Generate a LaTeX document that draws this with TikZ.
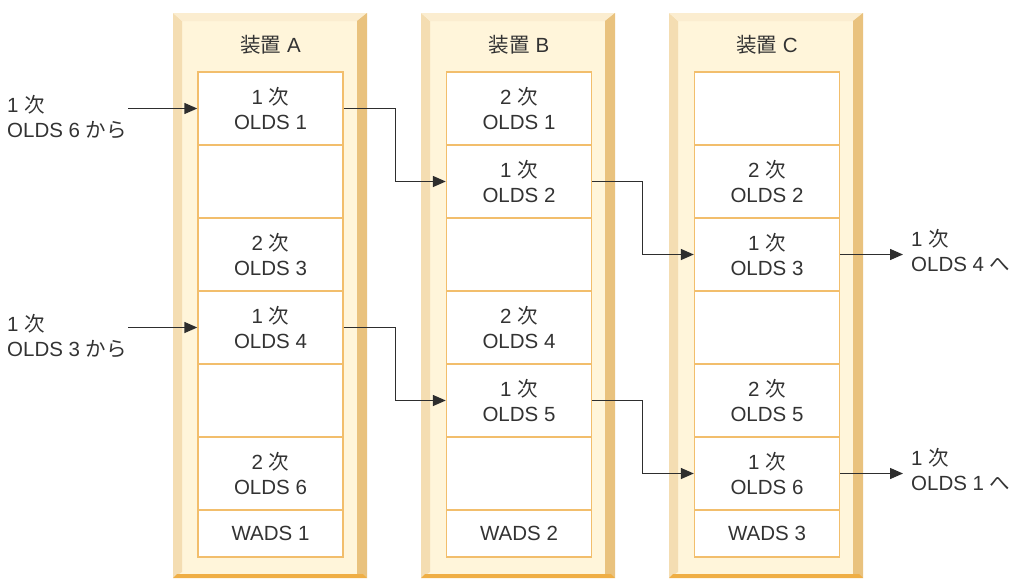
\documentclass[tikz,border=0pt]{standalone}
\usepackage{fontspec}
\setmainfont{Liberation Sans}
\newfontfamily\cjk{Noto Sans CJK JP}
\usetikzlibrary{arrows.meta}
\definecolor{txt}{HTML}{333333}
\definecolor{framefill}{HTML}{FFF5DA}
\definecolor{bevL}{HTML}{F4DDB2}
\definecolor{bevT}{HTML}{FBEDD0}
\definecolor{bevR}{HTML}{E9C27E}
\definecolor{bevB}{HTML}{EFAE45}
\definecolor{cellline}{HTML}{F2BE6C}
\definecolor{wire}{HTML}{2E2E2E}
\newcommand\ji{{\cjk 次}}
\begin{document}
\begin{tikzpicture}[x=1pt,y=-1pt,
  every node/.style={font=\fontsize{20.5}{25}\selectfont, text=txt},
  cell/.style={draw=cellline, line width=1.4pt, fill=white, minimum width=145pt,
    minimum height=73pt, inner sep=0pt, align=center},
  wadscell/.style={cell, minimum height=47pt},
  title/.style={inner sep=0pt},
  lbl/.style={inner sep=0pt, align=left},
  arr/.style={draw=wire, line width=1.4pt, -{Triangle[length=13pt,width=11pt]}}]
\useasboundingbox (0,0) rectangle (1009,579);
% device frames
\foreach \x in {173,421,669}{
  \fill[framefill] (\x,13) rectangle (\x+194,578);
  \fill[bevL] (\x,13) -- (\x+9,21) -- (\x+9,572) -- (\x,578) -- cycle;
  \fill[bevT] (\x,13) -- (\x+194,13) -- (\x+184,21) -- (\x+9,21) -- cycle;
  \fill[bevR] (\x+194,13) -- (\x+194,578) -- (\x+184,574) -- (\x+184,21) -- cycle;
  \fill[bevB] (\x,578) -- (\x+194,578) -- (\x+190,574) -- (\x+4,574) -- cycle;
}
% titles
\node[title] (tA) at (270.5,45) {{\cjk 装置} A};
\node[title] (tB) at (519,45) {{\cjk 装置} B};
\node[title] (tC) at (767,45) {{\cjk 装置} C};
% device A
\node[cell] (A1) at (270.5,108.5) {1 \ji\\OLDS 1};
\node[cell] (A2) at (270.5,181.5) {};
\node[cell] (A3) at (270.5,254.5) {2 \ji\\OLDS 3};
\node[cell] (A4) at (270.5,327.5) {1 \ji\\OLDS 4};
\node[cell] (A5) at (270.5,400.5) {};
\node[cell] (A6) at (270.5,473.5) {2 \ji\\OLDS 6};
\node[wadscell] (AW) at (270.5,533.5) {WADS 1};
% device B
\node[cell] (B1) at (519,108.5) {2 \ji\\OLDS 1};
\node[cell] (B2) at (519,181.5) {1 \ji\\OLDS 2};
\node[cell] (B3) at (519,254.5) {};
\node[cell] (B4) at (519,327.5) {2 \ji\\OLDS 4};
\node[cell] (B5) at (519,400.5) {1 \ji\\OLDS 5};
\node[cell] (B6) at (519,473.5) {};
\node[wadscell] (BW) at (519,533.5) {WADS 2};
% device C
\node[cell] (C1) at (767,108.5) {};
\node[cell] (C2) at (767,181.5) {2 \ji\\OLDS 2};
\node[cell] (C3) at (767,254.5) {1 \ji\\OLDS 3};
\node[cell] (C4) at (767,327.5) {};
\node[cell] (C5) at (767,400.5) {2 \ji\\OLDS 5};
\node[cell] (C6) at (767,473.5) {1 \ji\\OLDS 6};
\node[wadscell] (CW) at (767,533.5) {WADS 3};
% outside labels
\node[lbl, anchor=west] (L1) at (7,117) {1 \ji\\OLDS 6 {\cjk から}};
\node[lbl, anchor=west] (L2) at (7,336) {1 \ji\\OLDS 3 {\cjk から}};
\node[lbl, anchor=west] (R1) at (911,251) {1 \ji\\OLDS 4 {\cjk へ}};
\node[lbl, anchor=west] (R2) at (911,470) {1 \ji\\OLDS 1 {\cjk へ}};
\coordinate (in1) at (128,108.5);
\coordinate (in2) at (128,327.5);
\coordinate (out1) at (903,254.5);
\coordinate (out2) at (903,473.5);
% connectors
\draw[arr] (in1) -- (A1.west);
\draw[arr] (in2) -- (A4.west);
\draw[arr] (A1.east) -- ++(52,0) |- (B2.west);
\draw[arr] (A4.east) -- ++(52,0) |- (B5.west);
\draw[arr] (B2.east) -- ++(50,0) |- (C3.west);
\draw[arr] (B5.east) -- ++(50,0) |- (C6.west);
\draw[arr] (C3.east) -- (out1);
\draw[arr] (C6.east) -- (out2);
\end{tikzpicture}
\end{document}
